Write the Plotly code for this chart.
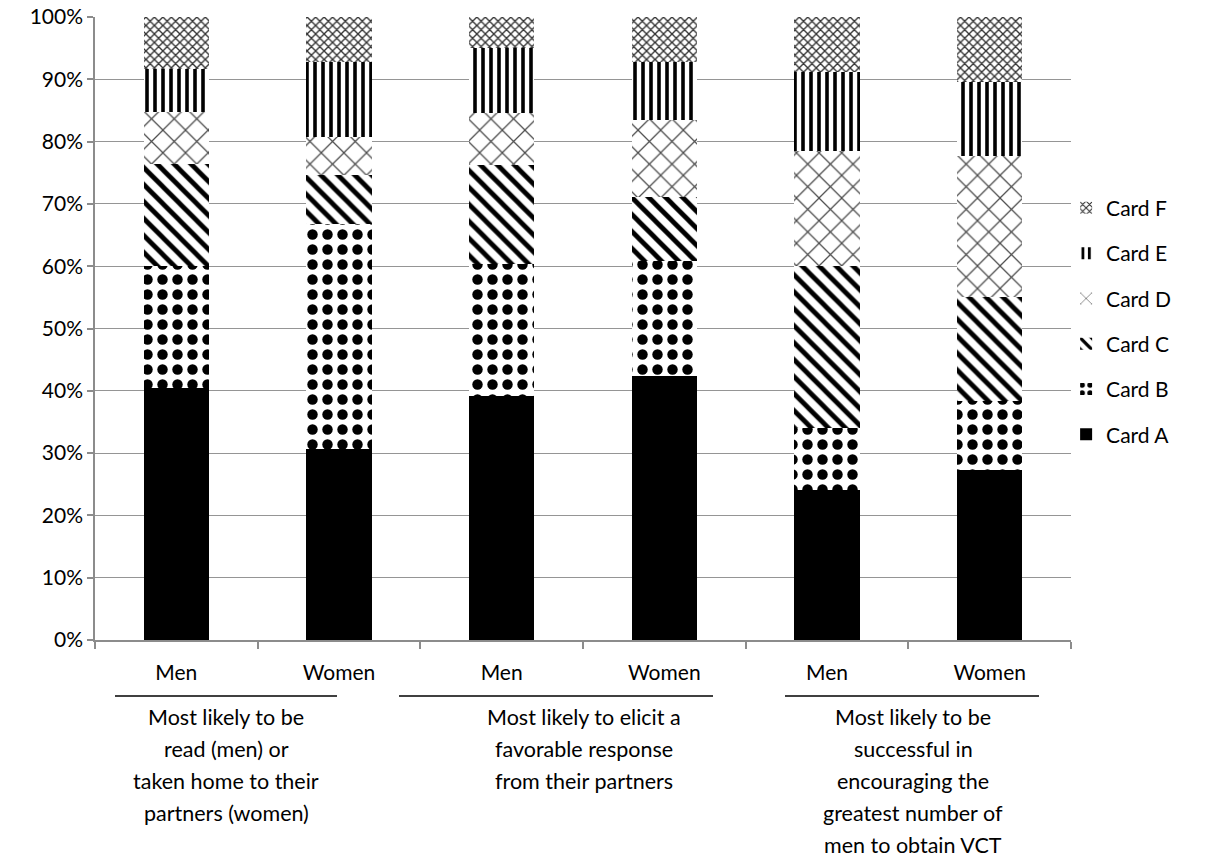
import plotly.graph_objects as go

bar_labels = ["Men", "Women", "Men", "Women", "Men", "Women"]
cards = ["Card A", "Card B", "Card C", "Card D", "Card E", "Card F"]
card_a = [40.4, 30.7, 39.1, 42.4, 24.1, 27.3]
card_b = [19.7, 36.0, 21.3, 18.5, 10.0, 11.1]
card_c = [16.3, 8.0, 15.8, 10.2, 26.0, 16.6]
card_d = [8.3, 6.1, 8.4, 12.4, 18.4, 22.7]
card_e = [7.0, 11.9, 10.5, 9.3, 12.7, 11.8]
card_f = [8.3, 7.3, 4.9, 7.2, 8.8, 10.5]
series = [card_a, card_b, card_c, card_d, card_e, card_f]

group_labels = [
    ["Most likely to be", "read (men) or", "taken home to their", "partners (women)"],
    ["Most likely to elicit a", "favorable response", "from their partners"],
    ["Most likely to be", "successful in", "encouraging the", "greatest number of", "men to obtain VCT"],
]
y_ticks = list(range(0, 101, 10))

patterns = [
    dict(shape="", fgcolor="black", bgcolor="black"),
    dict(shape=".", fgcolor="black", bgcolor="white", size=15, solidity=0.38),
    dict(shape="\\", fgcolor="black", bgcolor="white", size=12, solidity=0.4),
    dict(shape="x", fgcolor="#4d4d4d", bgcolor="white", size=16, solidity=0.15),
    dict(shape="|", fgcolor="black", bgcolor="white", size=8, solidity=0.45),
    dict(shape="x", fgcolor="#333333", bgcolor="white", size=6, solidity=0.4),
]

FONT = "Lato, 'Open Sans', sans-serif"
xs = list(range(len(bar_labels)))

fig = go.Figure()
for i, (name, vals, pat) in enumerate(zip(cards, series, patterns)):
    fig.add_trace(go.Bar(
        x=xs, y=vals, name=name, width=0.4,
        legendgroup=name, legendrank=100 - i,
        marker=dict(color=pat["fgcolor"] if pat["shape"] == "" else "white",
                    line=dict(width=0),
                    pattern=dict(fillmode="replace", **pat)),
        hoverinfo="skip",
    ))

W, H = 1210, 860
L, R, T, B = 95, 139, 17, 220
pw, ph = W - L - R, H - T - B

def px_x(p):
    return (p - L) / pw

def px_y(p):
    return (H - B - p) / ph

annotations = []
centers = [226, 584, 913]
for gi, lines in enumerate(group_labels):
    for li, txt in enumerate(lines):
        annotations.append(dict(
            x=px_x(centers[gi]), y=px_y(717 + 32 * li), xref="paper", yref="paper",
            text=txt, showarrow=False, xanchor="center", yanchor="middle",
            font=dict(family=FONT, size=21.5, color="black"),
        ))

shapes = []
for x0, x1 in [(115, 337), (399, 713), (785, 1039)]:
    shapes.append(dict(type="line", xref="paper", yref="paper",
                       x0=px_x(x0), x1=px_x(x1), y0=px_y(696), y1=px_y(696),
                       line=dict(color="black", width=1.6)))

fig.update_layout(
    width=W, height=H,
    margin=dict(l=L, r=R, t=T, b=B, autoexpand=False),
    barmode="stack",
    plot_bgcolor="white", paper_bgcolor="white",
    font=dict(family=FONT, size=21, color="black"),
    showlegend=True,
    legend=dict(x=0.995, y=0.726, xanchor="left", yanchor="top",
                traceorder="grouped", tracegroupgap=15,
                font=dict(family=FONT, size=21, color="black"),
                bgcolor="rgba(0,0,0,0)"),
    annotations=annotations,
    shapes=shapes,
)
fig.update_xaxes(
    range=[-0.5, len(bar_labels) - 0.5],
    tickmode="array", tickvals=xs, ticktext=bar_labels,
    ticks="", showgrid=False, zeroline=False,
    showline=True, linecolor="#8c8c8c", linewidth=1.5,
    ticklabelstandoff=13,
    tickfont=dict(family=FONT, size=21, color="black"),
    minor=dict(ticks="outside", tick0=-0.5, dtick=1, ticklen=7,
               tickcolor="#8c8c8c", tickwidth=1.5, showgrid=False),
)
fig.update_yaxes(
    range=[0, 100], tickmode="array", tickvals=y_ticks,
    ticktext=[f"{v}%" for v in y_ticks],
    showgrid=True, gridcolor="#959595", gridwidth=1.4,
    zeroline=False, showline=True, linecolor="#8c8c8c", linewidth=1.5,
    ticks="outside", ticklen=6, tickcolor="#8c8c8c", tickwidth=1.5,
    tickfont=dict(family=FONT, size=21, color="black"),
)

fig.write_html("out.html")
